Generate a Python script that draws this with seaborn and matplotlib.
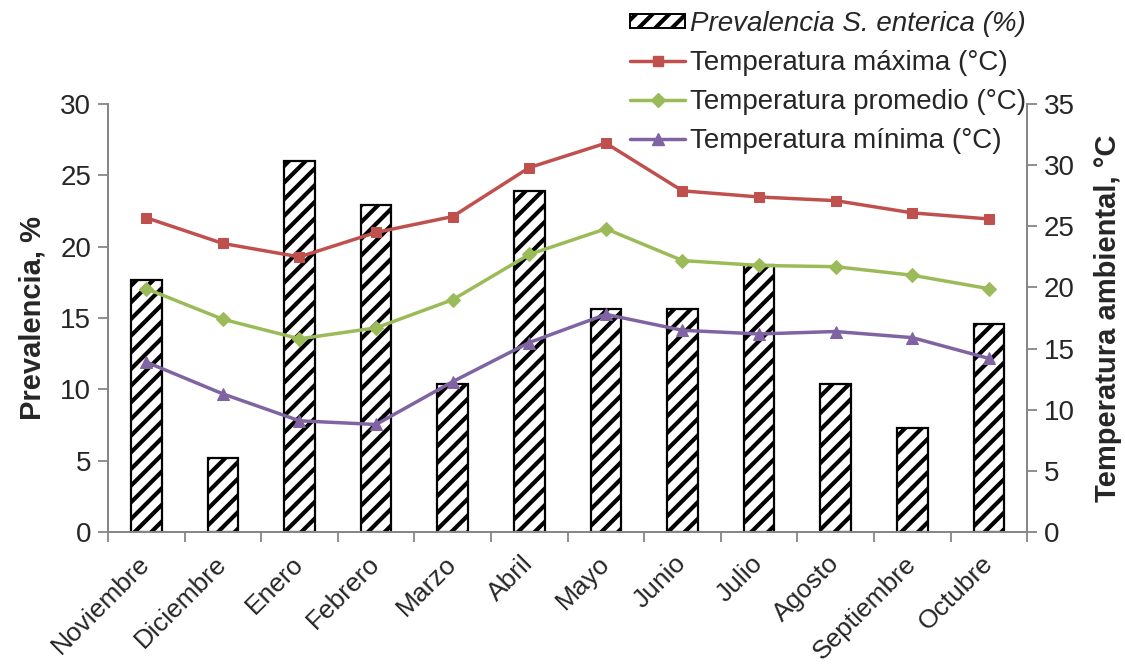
import numpy as np
import pandas as pd
import matplotlib
matplotlib.use("Agg")
import matplotlib.pyplot as plt
import seaborn as sns
from matplotlib.lines import Line2D
from matplotlib.patches import Patch

meses = ["Noviembre", "Diciembre", "Enero", "Febrero", "Marzo", "Abril",
         "Mayo", "Junio", "Julio", "Agosto", "Septiembre", "Octubre"]
prevalencia = [17.7, 5.2, 26.0, 22.9, 10.4, 23.9, 15.6, 15.6, 18.7, 10.4, 7.3, 14.6]
temp_max = [25.7, 23.6, 22.5, 24.5, 25.8, 29.8, 31.8, 27.9, 27.4, 27.1, 26.1, 25.6]
temp_prom = [19.9, 17.4, 15.8, 16.7, 19.0, 22.7, 24.8, 22.2, 21.8, 21.7, 21.0, 19.9]
temp_min = [13.9, 11.3, 9.1, 8.8, 12.3, 15.5, 17.8, 16.5, 16.2, 16.4, 15.9, 14.2]

ROJO, VERDE, MORADO = "#C0504D", "#9BBB59", "#8064A2"
GRIS = "#868686"

sns.set_theme(style="white")
plt.rcParams["font.family"] = ["Liberation Sans", "DejaVu Sans"]
plt.rcParams["hatch.linewidth"] = 3.0
plt.rcParams["hatch.color"] = "black"

df = pd.DataFrame({"mes": meses, "prev": prevalencia,
                   "tmax": temp_max, "tprom": temp_prom, "tmin": temp_min})

fig = plt.figure(figsize=(11.25, 6.71), dpi=100)
ax = fig.add_axes([0.096, 0.207, 0.817, 0.638])

sns.barplot(data=df, x="mes", y="prev", ax=ax, color="white",
            edgecolor="black", linewidth=1.6, width=0.4, hatch="//",
            saturation=1)

ax2 = ax.twinx()
series = [("tmax", ROJO, "s", 7), ("tprom", VERDE, "D", 7), ("tmin", MORADO, "^", 8)]
for col, c, m, ms in series:
    sns.lineplot(data=df, x=np.arange(len(meses)), y=col, ax=ax2, color=c,
                 marker=m, markersize=ms, markeredgecolor=c, linewidth=2.5,
                 sort=False)

ax.set_xlim(-0.5, len(meses) - 0.5)
ax2.set_xlim(-0.5, len(meses) - 0.5)
ax.set_ylim(0, 30)
ax2.set_ylim(0, 35)
ax.set_yticks(np.arange(0, 31, 5))
ax2.set_yticks(np.arange(0, 36, 5))

for a in (ax, ax2):
    a.spines["top"].set_visible(False)
    for s in ("left", "right", "bottom"):
        a.spines[s].set_color(GRIS)
        a.spines[s].set_linewidth(1.3)

ax.tick_params(axis="y", direction="out", length=7, width=1.3, color=GRIS,
               labelsize=20, left=True, pad=5)
ax2.tick_params(axis="y", direction="out", length=7, width=1.3, color=GRIS,
                labelsize=20, right=True, pad=5)

ax.set_xticks(np.arange(len(meses)))
ax.set_xticklabels(meses, rotation=45, ha="right", va="center",
                   rotation_mode="anchor", fontsize=19)
ax.set_xticks(np.arange(-0.5, len(meses)), minor=True)
ax.tick_params(axis="x", which="major", length=0, pad=20)
ax.tick_params(axis="x", which="minor", direction="out", length=7,
               width=1.3, color=GRIS, bottom=True)

ax.set_xlabel("")
ax.set_ylabel("Prevalencia, %", fontsize=21, fontweight="bold", labelpad=10)
ax2.set_ylabel("Temperatura ambiental, °C", fontsize=21, fontweight="bold",
               rotation=90, labelpad=14)

handles = [
    Patch(facecolor="white", edgecolor="black", hatch="//", linewidth=1.4),
    Line2D([], [], color=ROJO, marker="s", markersize=7, linewidth=2.5),
    Line2D([], [], color=VERDE, marker="D", markersize=7, linewidth=2.5),
    Line2D([], [], color=MORADO, marker="^", markersize=8, linewidth=2.5),
]
labels = ["Prevalencia S. enterica (%)", "Temperatura máxima (°C)",
          "Temperatura promedio (°C)", "Temperatura mínima (°C)"]
leg = fig.legend(handles, labels, loc="upper right",
                 bbox_to_anchor=(0.916, 0.99), frameon=False, fontsize=20,
                 handlelength=1.95, handleheight=0.45, handletextpad=0.2,
                 labelspacing=0.47, borderpad=0.15, borderaxespad=0)
leg.get_texts()[0].set_fontstyle("italic")

fig.savefig("out.png", dpi=100)
